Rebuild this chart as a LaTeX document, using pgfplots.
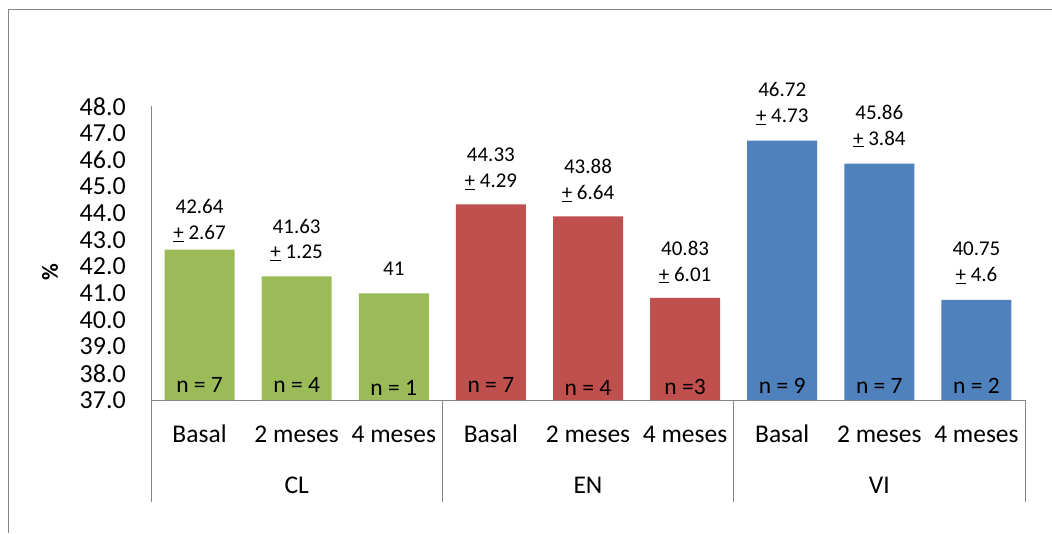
\documentclass[border=0pt]{standalone}
\usepackage{pgfplots}
\pgfplotsset{compat=1.18}
\usepackage{fontspec}
\setmainfont{Carlito}
\definecolor{cgreen}{RGB}{155,187,89}
\definecolor{cred}{RGB}{192,80,77}
\definecolor{cblue}{RGB}{79,129,189}
\definecolor{lgray}{RGB}{134,134,134}
\newcommand\lab[2]{\begin{tabular}[b]{@{}c@{}}#1\\\underline{+} #2\end{tabular}}
\begin{document}
\begin{tikzpicture}[x=1pt,y=1pt]
\path[use as bounding box] (0,0) rectangle (1052,533);
\draw[lgray, line width=1pt] (1052,523.5) -- (8,523.5) -- (8,0);
\begin{axis}[
  at={(151pt,133pt)}, anchor=south west,
  scale only axis, width=874pt, height=293.5pt,
  xmin=-0.5, xmax=8.5, ymin=37, ymax=48,
  clip=false,
  axis x line*=bottom, axis y line*=left,
  axis line style={lgray, line width=1pt},
  ybar, bar width=70pt, bar shift=0pt,
  xtick={0,...,8},
  xticklabels={Basal,2 meses,4 meses,Basal,2 meses,4 meses,Basal,2 meses,4 meses},
  xticklabel style={anchor=base, yshift=-42pt, inner sep=0pt, font=\fontsize{25.5}{30}\selectfont},
  ytick={37,...,48},
  yticklabel style={anchor=east, inner sep=0pt, xshift=-25pt, font=\fontsize{26}{30}\selectfont,
    /pgf/number format/.cd, fixed, fixed zerofill, precision=1, assume math mode=true},
  major tick length=0pt,
  extra x ticks={-0.5,2.5,5.5,8.5}, extra x tick labels={},
  extra x tick style={major tick length=102pt, tick align=outside, tick style={lgray, line width=1pt}},
  ylabel={\textbf{\%}},
  ylabel style={at={(axis description cs:-0.1156,0.436)}, anchor=center, font=\fontsize{23}{28}\selectfont},
  point meta=explicit symbolic,
  nodes near coords,
  every node near coord/.append style={anchor=base, inner sep=0pt, font=\fontsize{21}{25.8}\selectfont},
]
\addplot[fill=cgreen, draw=none, every node near coord/.append style={yshift=17.5pt}] coordinates {(0,42.64) [\raisebox{-7.5pt}{\lab{42.64}{2.67}}] (1,41.63) [\lab{41.63}{1.25}] (2,41) [41]};
\addplot[fill=cred, draw=none, every node near coord/.append style={yshift=16.7pt}] coordinates {(3,44.33) [\lab{44.33}{4.29}] (4,43.88) [\lab{43.88}{6.64}] (5,40.83) [\lab{40.83}{6.01}]};
\addplot[fill=cblue, draw=none, every node near coord/.append style={yshift=18.3pt}] coordinates {(6,46.72) [\lab{46.72}{4.73}] (7,45.86) [\lab{45.86}{3.84}] (8,40.75) [\lab{40.75}{4.6}]};
\begin{scope}[every node/.style={anchor=base, font=\fontsize{23.5}{28}\selectfont}]
\node[yshift=8pt] at (axis cs:0,37) {n = 7};
\node[yshift=8pt] at (axis cs:1,37) {n = 4};
\node[yshift=5pt] at (axis cs:2,37) {n = 1};
\node[yshift=8pt] at (axis cs:3,37) {n = 7};
\node[yshift=5pt] at (axis cs:4,37) {n = 4};
\node[yshift=6pt] at (axis cs:5,37) {n =3};
\node[yshift=7pt] at (axis cs:6,37) {n = 9};
\node[yshift=7pt] at (axis cs:7,37) {n = 7};
\node[yshift=7pt] at (axis cs:8,37) {n = 2};
\end{scope}
\begin{scope}[every node/.style={anchor=base, font=\fontsize{25.5}{30}\selectfont}]
\node[yshift=-93pt] at (axis cs:1,37) {CL};
\node[yshift=-93pt] at (axis cs:4,37) {EN};
\node[yshift=-93pt] at (axis cs:7,37) {VI};
\end{scope}
\end{axis}
\end{tikzpicture}
\end{document}
